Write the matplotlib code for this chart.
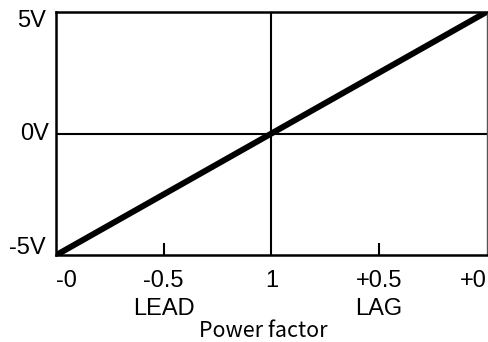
import matplotlib.pyplot as plt

# data
x_pos = [0, 1, 2, 3, 4]
x_labels = ['-0', '-0.5', '1', '+0.5', '+0']
sub_labels = ['', 'LEAD', '', 'LAG', '']
y_ticks = [-5, 0, 5]
y_labels = ['-5V', '0V', '5V']
line_x = [0, 4]
line_v = [-5, 5]

fig = plt.figure(figsize=(4.88, 3.42), dpi=100)
ax = fig.add_axes([0.115, 0.254, 0.882, 0.711])

ax.plot(line_x, line_v, color='black', lw=4.3, solid_capstyle='butt', zorder=3)
ax.axhline(0, color='black', lw=1.5)
ax.axvline(2, color='black', lw=1.5)

ax.set_xlim(0, 4)
ax.set_ylim(-5, 5)
for s in ['left', 'bottom', 'top']:
    ax.spines[s].set_linewidth(1.8)
ax.spines['right'].set_linewidth(1.0)
ax.spines['right'].set_color('#555555')

ax.set_xticks([1, 3])
ax.set_xticklabels([])
ax.tick_params(axis='x', direction='in', length=8.5, width=1.5)
ax.set_yticks([])

fs = 17
# end labels are kept inside the figure
x_align = ['left', 'center', 'center', 'center', 'right']
for x, lab, sub, ha in zip(x_pos, x_labels, sub_labels, x_align):
    ax.annotate(lab, xy=(x, 0), xycoords=('data', 'axes fraction'),
                xytext=(0, -23), textcoords='offset points',
                ha=ha, va='baseline', fontsize=fs,
                family='Liberation Sans', annotation_clip=False)
    if sub:
        ax.annotate(sub, xy=(x, 0), xycoords=('data', 'axes fraction'),
                    xytext=(0, -43.2), textcoords='offset points',
                    ha='center', va='baseline', fontsize=fs,
                    family='Liberation Sans', annotation_clip=False)

y_shift = {5: (-7.5, -6.5), 0: (-5, 0), -5: (-7.5, 5)}
for y, lab in zip(y_ticks, y_labels):
    ax.annotate(lab, xy=(0, y), xycoords=('axes fraction', 'data'),
                xytext=y_shift[y], textcoords='offset points',
                ha='right', va='center', fontsize=fs,
                family='Liberation Sans', annotation_clip=False)

ax.annotate('Power factor', xy=(2, 0), xycoords=('data', 'axes fraction'),
            xytext=(-6, -59), textcoords='offset points',
            ha='center', va='baseline', fontsize=15.5,
            family='Noto Sans CJK JP', annotation_clip=False)

fig.savefig('out.png', dpi=100)
